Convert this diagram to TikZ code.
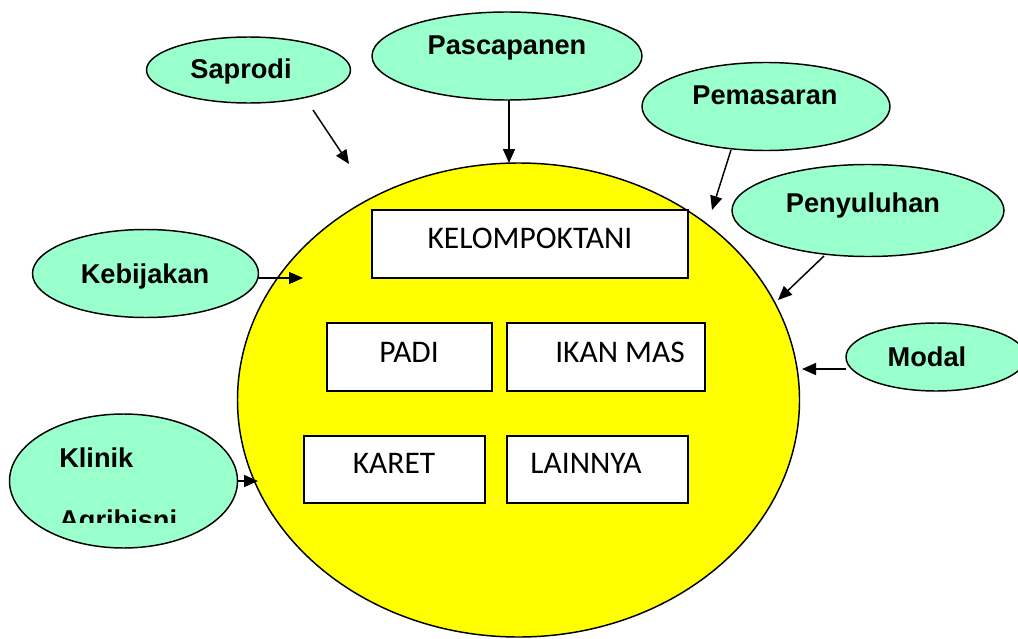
\documentclass[tikz,border=0pt]{standalone}
\usepackage{fontspec}
\setmainfont{Liberation Sans}
\newfontfamily\boxfont{Carlito}
\usetikzlibrary{arrows.meta,shapes.geometric}
\definecolor{aqua}{HTML}{99FFCC}
\definecolor{yel}{HTML}{FFFF00}
\begin{document}
\begin{tikzpicture}[x=0.75pt,y=-0.75pt,
  bub/.style={ellipse,draw=black,line width=1.1pt,fill=aqua,inner sep=0pt},
  box/.style={rectangle,draw=black,line width=1.1pt,fill=white,inner sep=0pt},
  btxt/.style={font=\fontsize{20.4}{24}\selectfont\bfseries,anchor=base,inner sep=0pt},
  rtxt/.style={font=\boxfont\fontsize{23.6}{27}\selectfont,anchor=base,inner sep=0pt},
  arr/.style={line width=1.1pt,-{Triangle[length=10.5pt,width=9pt]}}]
\useasboundingbox (0,0) rectangle (1018,639);
\clip (0,0) rectangle (1018,639);
% central ellipse
\node[ellipse,draw=black,line width=1.1pt,fill=yel,minimum width={562*0.75pt},minimum height={474*0.75pt},inner sep=0pt] (core) at (518.5,400) {};
% boxes
\node[box,minimum width={316*0.75pt},minimum height={68*0.75pt}] (kel) at (530,244) {};
\node[box,minimum width={165*0.75pt},minimum height={68*0.75pt}] (padi) at (409.5,357) {};
\node[box,minimum width={198*0.75pt},minimum height={68*0.75pt}] (ikan) at (606,357) {};
\node[box,minimum width={181*0.75pt},minimum height={67*0.75pt}] (karet) at (394.5,469.5) {};
\node[box,minimum width={181*0.75pt},minimum height={67*0.75pt}] (lain) at (597.5,469.5) {};
\node[rtxt] (tkel) at (530,248) {KELOMPOKTANI};
\node[rtxt] (tpadi) at (409,362) {PADI};
\node[rtxt] (tikan) at (620,362) {IKAN MAS};
\node[rtxt] (tkaret) at (394,473) {KARET};
\node[rtxt] (tlain) at (586,473) {LAINNYA};
% bubbles
\node[bub,minimum width={204*0.75pt},minimum height={66*0.75pt}] (sap) at (248.5,70) {};
\node[bub,minimum width={270*0.75pt},minimum height={88*0.75pt}] (pasca) at (507,56) {};
\node[bub,minimum width={248*0.75pt},minimum height={88*0.75pt}] (pem) at (766,106.5) {};
\node[bub,minimum width={272*0.75pt},minimum height={92*0.75pt}] (peny) at (868,210.5) {};
\node[bub,minimum width={180*0.75pt},minimum height={68*0.75pt}] (modal) at (936,357) {};
\node[bub,minimum width={226*0.75pt},minimum height={88*0.75pt}] (keb) at (145.5,273.5) {};
\node[bub,minimum width={228*0.75pt},minimum height={134*0.75pt}] (klin) at (123.5,481) {};
\node[btxt] (tsap) at (241,78) {Saprodi};
\node[btxt] (tpasca) at (507,55) {Pascapanen};
\node[btxt] (tpem) at (765,104) {Pemasaran};
\node[btxt] (tpeny) at (863,212) {Penyuluhan};
\node[btxt] (tmodal) at (927,366) {Modal};
\node[btxt] (tkeb) at (145,283) {Kebijakan};
\node[btxt,anchor=base west] (tklin1) at (59,467) {Klinik};
\begin{scope}
\clip (20,440) rectangle (230,522);
\node[btxt,anchor=base west] (tklin2) at (59,529) {Agribisni};
\end{scope}
% arrow ends
\coordinate (sapE) at (349,164);
\coordinate (pascaE) at (509,163);
\coordinate (pemE) at (712,210);
\coordinate (penyE) at (778,300);
\coordinate (modalE) at (802,369);
\coordinate (kebE) at (303,278);
\coordinate (klinE) at (258,481);
\coordinate (sapS) at (313,110);
\coordinate (pascaS) at (509,100);
\coordinate (pemS) at (731,150);
\coordinate (penyS) at (824,256);
\coordinate (modalS) at (846,369);
\coordinate (kebS) at (258,278);
\coordinate (klinS) at (237,481);
\draw[arr] (sapS) -- (sapE);
\draw[arr] (pascaS) -- (pascaE);
\draw[arr] (pemS) -- (pemE);
\draw[arr] (penyS) -- (penyE);
\draw[arr] (modalS) -- (modalE);
\draw[arr] (kebS) -- (kebE);
\draw[arr] (klinS) -- (klinE);
\end{tikzpicture}
\end{document}
